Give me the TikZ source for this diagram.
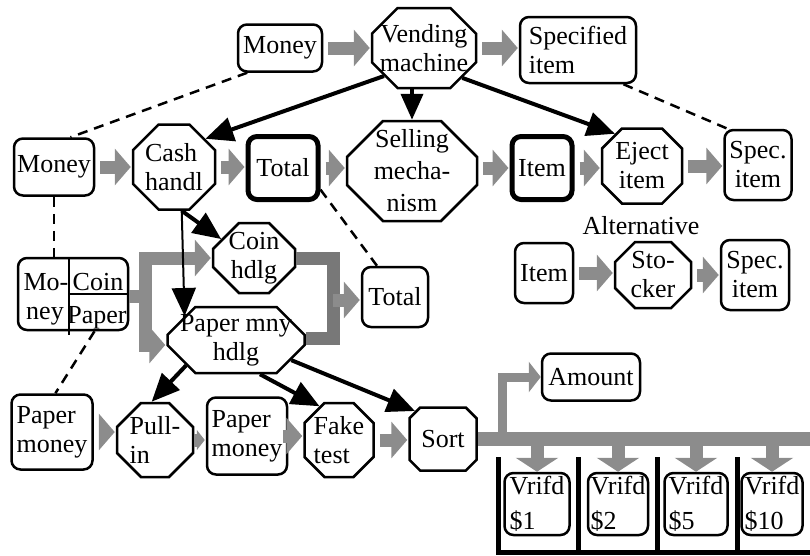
\documentclass[tikz,border=0pt]{standalone}
\usepackage{fontspec}
\setmainfont{Liberation Serif}
\usetikzlibrary{arrows.meta,shapes.misc}
\definecolor{flowgray}{HTML}{8C8C8C}
\definecolor{mergegray}{HTML}{787878}

\tikzset{
  box/.style={draw, line width=2.5pt, rounded corners=9pt, fill=white, inner sep=1pt,
    align=center, font=\fontsize{26}{29}\selectfont},
  thickbox/.style={box, line width=5pt},
  octa/.style={draw, line width=2.5pt, chamfered rectangle, chamfered rectangle sep=#1,
    fill=white, inner sep={2pt-#1}, align=center, font=\fontsize{26}{29}\selectfont},
  flow/.style={draw=flowgray, line width=13pt, -{Triangle[length=16pt,width=36pt]},
    shorten <=5pt, shorten >=1pt},
  flowdown/.style={draw=flowgray, line width=13pt, -{Triangle[length=14pt,width=42pt]}},
  ctrl/.style={line width=4pt, -{Triangle[length=28pt,width=24pt]}},
  link/.style={line width=2.5pt, dash pattern=on 10pt off 7pt},
}

\begin{document}
\begin{tikzpicture}[x=1pt,y=-1pt]
\useasboundingbox (0,0) rectangle (810,555);

% top level
\node[box, minimum width=84pt, minimum height=47pt] (money0) at (280,48) {Money};
\node[octa=13pt, minimum width=104pt, minimum height=80pt] (vend) at (424,48) {Vending\\machine};
\node[box, align=left, minimum width=116pt, minimum height=66pt] (spec0) at (578,50) {Specified\\item};

% second level
\node[box, minimum width=80pt, minimum height=57pt] (money1) at (54,167) {Money};
\node[octa=15pt, align=left, minimum width=82pt, minimum height=85pt] (cash) at (174,167) {Cash\\handl};
\node[thickbox, minimum width=70pt, minimum height=63pt] (total0) at (283,168) {Total};
\node[octa=18pt, minimum width=130pt, minimum height=100pt,
      font=\fontsize{26}{32}\selectfont] (sell) at (412,171) {Selling\\mecha-\\nism};
\node[thickbox, minimum width=60pt, minimum height=63pt] (item0) at (542,168) {Item};
\node[octa=10pt, minimum width=80pt, minimum height=75pt] (eject) at (642,166) {Eject\\item};
\node[box, minimum width=67pt, minimum height=70pt] (spec1) at (758,165) {Spec.\\item};

% alternative
\node[font=\fontsize{26}{29}\selectfont] (alt) at (641,226) {Alternative};
\node[box, minimum width=58pt, minimum height=60pt] (item1) at (544,273) {Item};
\node[octa=10pt, minimum width=76pt, minimum height=66pt] (stock) at (653,275) {Sto-\\cker};
\node[box, minimum width=68pt, minimum height=70pt] (spec2) at (755,275) {Spec.\\item};

% cash handling
\node[box, minimum width=110pt, minimum height=72pt] (split) at (73,294) {};
\node[font=\fontsize{26}{29}\selectfont, inner sep=0pt] (mo) at (46,282) {Mo-};
\node[font=\fontsize{26}{29}\selectfont, inner sep=0pt] (ney) at (45,316) {ney};
\node[font=\fontsize{26}{29}\selectfont, inner sep=0pt] (coinlbl) at (98,282) {Coin};
\node[font=\fontsize{26}{29}\selectfont, inner sep=0pt] (paperlbl) at (97,318) {Paper};
\coordinate (divtop) at (69,257);
\coordinate (divbot) at (69,335);
\coordinate (divmid) at (69,294);
\draw[line width=2.5pt] (divtop) -- (divbot);
\draw[line width=2.5pt] (divmid) -- (split.east);

\node[octa=13pt, minimum width=82pt, minimum height=70pt] (coin) at (254,258) {Coin\\hdlg};
\node[octa=16pt, minimum width=137pt, minimum height=66pt] (paper) at (236,340) {Paper mny\\hdlg};
\node[box, minimum width=66pt, minimum height=60pt] (total1) at (395,297) {Total};

% paper money
\node[box, align=left, minimum width=81pt, minimum height=75pt] (pmoney0) at (52,432) {Paper\\money};
\node[octa=12pt, align=left, minimum width=76pt, minimum height=74pt] (pull) at (155,440) {Pull-\\in};
\node[box, align=left, minimum width=80pt, minimum height=77pt] (pmoney1) at (247,436) {Paper\\money};
\node[octa=10pt, align=left, minimum width=69pt, minimum height=74pt] (fake) at (339,440) {Fake\\test};
\node[octa=10pt, minimum width=67pt, minimum height=63pt] (sort) at (443,439) {Sort};
\node[box, minimum width=98pt, minimum height=47pt] (amount) at (591,377) {Amount};

% verified bins
\node[box, align=left, inner sep=0pt, minimum width=65pt, minimum height=62pt,
      font=\fontsize{26}{35}\selectfont] (v1) at (537,504) {Vrifd\\\$1};
\node[box, align=left, inner sep=0pt, minimum width=60pt, minimum height=62pt,
      font=\fontsize{26}{35}\selectfont] (v2) at (618,504) {Vrifd\\\$2};
\node[box, align=left, inner sep=0pt, minimum width=63pt, minimum height=62pt,
      font=\fontsize{26}{35}\selectfont] (v5) at (696,504) {Vrifd\\\$5};
\node[box, align=left, inner sep=0pt, minimum width=61pt, minimum height=62pt,
      font=\fontsize{26}{35}\selectfont] (v10) at (772,504) {Vrifd\\\$10};
\draw[line width=5pt] (498,457) -- (498,552) -- (810,552);
\draw[line width=5pt] (578,457) -- (578,552);
\draw[line width=5pt] (657,457) -- (657,552);
\draw[line width=5pt] (737,457) -- (737,552);

% material flow
\draw[flow] (money0.east) -- (money0.east -| vend.west);
\draw[flow] (vend.east) -- (vend.east -| spec0.west);
\draw[flow] (money1.east) -- (money1.east -| cash.west);
\draw[flow] (cash.east) -- (cash.east -| total0.west);
\draw[flow] (total0.east) -- (total0.east -| sell.west);
\draw[flow] (sell.east |- item0.west) -- (item0.west);
\draw[flow] (item0.east) -- (item0.east -| eject.west);
\draw[flow] (eject.east) -- (eject.east -| spec1.west);
\draw[flow] (item1.east) -- (item1.east -| stock.west);
\draw[flow] (stock.east) -- (stock.east -| spec2.west);
\draw[flow] (pmoney0.east) -- (pmoney0.east -| pull.west);
\draw[flow, shorten <=0pt, -{Triangle[length=8pt,width=20pt]}] (pull.east) -- (pull.east -| pmoney1.west);
\draw[flow] (pmoney1.east) -- (pmoney1.east -| fake.west);
\draw[flow] (fake.east) -- (fake.east -| sort.west);

\coordinate (fork) at (145,296);
\draw[flow, shorten <=0pt] (split.east |- fork) -- (fork) |- (coin.west);
\draw[flow, shorten <=0pt] (fork) |- ([yshift=-5pt]paper.west);
\coordinate (merge) at (333,300);
\draw[draw=mergegray, line width=13pt] (coin.east) -| (merge);
\draw[draw=mergegray, line width=13pt] ([yshift=2pt]paper.east) -| (merge);
\draw[flow, shorten <=0pt] (merge) -- (merge -| total1.west);

\coordinate (busend) at (810,439);
\coordinate (tap) at (502,439);
\draw[draw=flowgray, line width=14pt] (sort.east) -- (busend);
\draw[draw=flowgray, line width=9pt, -{Triangle[length=12pt,width=30pt]}] (tap) |- (amount.west);
\draw[flowdown] (v1.north |- busend) -- (v1.north);
\draw[flowdown] (v2.north |- busend) -- (v2.north);
\draw[flowdown] (v5.north |- busend) -- (v5.north);
\draw[flowdown] (v10.north |- busend) -- (v10.north);

% control
\draw[ctrl] (vend.215) -- (cash.42);
\draw[ctrl, -{Triangle[length=26pt,width=22pt]}] (sell.north |- vend.south) -- (sell.north);
\draw[ctrl] (vend.322) -- (eject.130);
\draw[ctrl] (cash.280) -- (coin.150);
\draw[ctrl, line width=2pt] (cash.280) -- (paper.155);
\draw[ctrl] (paper.207) -- (pull.95);
\draw[ctrl] (paper.305) -- (fake.120);
\draw[ctrl] (paper.340) -- (sort.135);

% refinement
\draw[link] (money0.217) -- (money1.61);
\draw[link] (money1.south) -- (money1.south |- split.north);
\draw[link] (split.300) -- (pmoney0.85);
\draw[link] (total0.330) -- (total1.120);
\draw[link] (spec0.323) -- (spec1.130);
\end{tikzpicture}
\end{document}
